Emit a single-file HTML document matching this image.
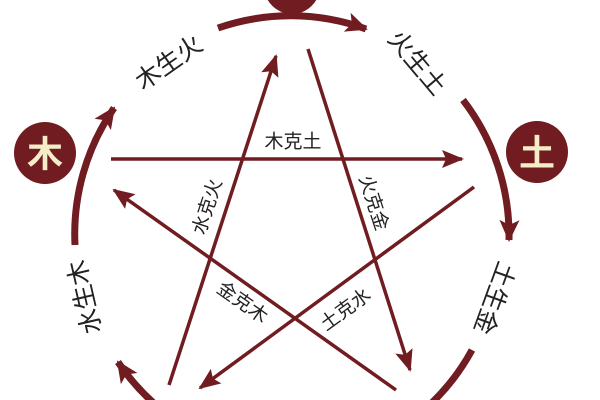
<!DOCTYPE html>
<html><head><meta charset="utf-8"><style>
html,body{margin:0;padding:0;background:#fff;width:600px;height:400px;overflow:hidden;}
svg{display:block}
text{font-family:"Liberation Sans","Noto Sans CJK SC",sans-serif;fill:#222;}
</style></head><body>
<svg width="600" height="400" viewBox="0 0 600 400" xmlns="http://www.w3.org/2000/svg">
<defs>
<marker id="big" markerUnits="userSpaceOnUse" markerWidth="24" markerHeight="24" refX="20" refY="10" orient="auto">
<path d="M0,0 L22,10 L0,20 L5,10 Z" fill="#701c21"/></marker>
<marker id="sm" markerUnits="userSpaceOnUse" markerWidth="24" markerHeight="22" refX="20" refY="9" orient="auto">
<path d="M0,0 L22,9 L0,18 L4,9 Z" fill="#701c21"/></marker>
</defs>
<g fill="none" stroke="#701c21" stroke-width="7">
<path d="M218,28 A222,222 0 0 1 366,29" marker-end="url(#big)"/>
<path d="M463,100 A222,222 0 0 1 509,240" marker-end="url(#big)"/>
<path d="M472,350 A222,222 0 0 1 405,425"/>
<path d="M75,245 A222,222 0 0 1 114,108" marker-end="url(#big)"/>
<path d="M175,420 A222,222 0 0 1 118,362" marker-end="url(#big)"/>
</g>
<g stroke="#701c21" stroke-width="3.5" fill="none">
<line x1="111" y1="159" x2="462" y2="159" marker-end="url(#sm)"/>
<line x1="169" y1="385" x2="276" y2="56" marker-end="url(#sm)"/>
<line x1="308" y1="49" x2="410" y2="370" marker-end="url(#sm)"/>
<line x1="396" y1="390" x2="114" y2="190" marker-end="url(#sm)"/>
<line x1="474" y1="187" x2="200" y2="388" marker-end="url(#sm)"/>
</g>
<circle cx="292" cy="-14" r="28" fill="#701c21"/>
<circle cx="45" cy="153" r="31" fill="#701c21"/>
<circle cx="537" cy="152" r="31" fill="#701c21"/>
<text x="45" y="154" font-size="36" font-weight="bold" text-anchor="middle" dominant-baseline="central" style="fill:#f5ecc8">木</text>
<text x="537" y="153" font-size="36" font-weight="bold" text-anchor="middle" dominant-baseline="central" style="fill:#f5ecc8">土</text>
<g font-size="25" text-anchor="middle" dominant-baseline="central">
<text transform="translate(169,63) rotate(-35)">木生火</text>
<text transform="translate(417,63) rotate(50)">火生土</text>
<text transform="translate(494,298) rotate(110)">土生金</text>
<text transform="translate(85,297) rotate(-103)">水生木</text>
</g>
<g font-size="19" text-anchor="middle" dominant-baseline="central">
<text x="293" y="142">木克土</text>
<text transform="translate(208,207) rotate(-72)">水克火</text>
<text transform="translate(373,203) rotate(72)">火克金</text>
<text transform="translate(242,303) rotate(35)">金克木</text>
<text transform="translate(346,310) rotate(-36)">土克水</text>
</g>
</svg>
</body></html>
